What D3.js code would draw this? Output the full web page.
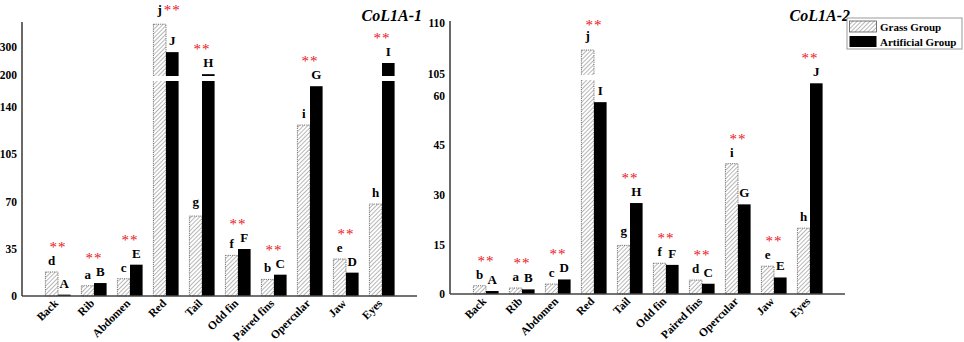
<!DOCTYPE html>
<html>
<head>
<meta charset="utf-8">
<script src="https://d3js.org/d3.v7.min.js"></script>
<style>
  body { margin: 0; background: #fff; }
  svg { display: block; }
  svg text { font-family: "Liberation Serif", "Times New Roman", serif; }
</style>
</head>
<body>
<svg id="drawing_region"></svg>
<script>
// ---- data ----
const categories = ["Back", "Rib", "Abdomen", "Red", "Tail", "Odd fin", "Paired fins", "Opercular", "Jaw", "Eyes"];

const col1_grass = [17.8, 7.6, 12.8, 382, 59.2, 30.1, 12.3, 126.6, 27.4, 68.1];
const col1_artificial = [1.0, 9.6, 23.2, 282, 203, 34.8, 15.8, 155.4, 17.3, 243];
const col1_grass_letters = ["d", "a", "c", "j", "g", "f", "b", "i", "e", "h"];
const col1_artificial_letters = ["A", "B", "E", "J", "H", "F", "C", "G", "D", "I"];
const col1_ticks = [0, 35, 70, 105, 140, 200, 300];

const col2_grass = [2.5, 1.8, 3.0, 107.35, 14.7, 9.3, 4.2, 39.4, 8.4, 19.9];
const col2_artificial = [0.9, 1.4, 4.4, 58.0, 27.5, 8.8, 3.1, 27.1, 5.0, 63.7];
const col2_grass_letters = ["b", "a", "c", "j", "g", "f", "d", "i", "e", "h"];
const col2_artificial_letters = ["A", "B", "D", "I", "H", "F", "C", "G", "E", "J"];
const col2_ticks = [0, 15, 30, 45, 60, 105, 110];

const significance = ["**", "**", "**", "**", "**", "**", "**", "**", "**", "**"];
const series_names = ["Grass Group", "Artificial Group"];

// ---- drawing ----
const FONT = '"Liberation Serif", "Times New Roman", serif';

const svg = d3.select('#drawing_region')
    .attr('width', 964)
    .attr('height', 342);

const defs = svg.append('defs');
const pat = defs.append('pattern')
    .attr('id', 'hatch')
    .attr('patternUnits', 'userSpaceOnUse')
    .attr('width', 3)
    .attr('height', 3)
    .attr('patternTransform', 'rotate(45)');
pat.append('rect').attr('width', 3).attr('height', 3).attr('fill', '#fff');
pat.append('line')
    .attr('x1', 0).attr('y1', 0).attr('x2', 0).attr('y2', 3)
    .attr('stroke', '#909090').attr('stroke-width', 1.3);

const panels = [
    { title: "CoL1A-1", axisX: 22, base: 296, top: 22, breakLo: 160, breakHi: 200, max: 390, yBreak: [80, 75],
      grass: col1_grass, art: col1_artificial, gl: col1_grass_letters, al: col1_artificial_letters, ticks: col1_ticks },
    { title: "CoL1A-2", axisX: 450, base: 294, top: 21, breakLo: 65, breakHi: 105, max: 110.2, yBreak: [79, 74],
      grass: col2_grass, art: col2_artificial, gl: col2_grass_letters, al: col2_artificial_letters, ticks: col2_ticks },
];

const descenders = "gjpqy";

panels.forEach(p => {
    const g = svg.append('g');

    const x = d3.scaleBand()
        .domain(categories)
        .range([p.axisX + 18, p.axisX + 378])
        .paddingInner(0.3)
        .paddingOuter(0.15);

    // broken y-axis: piecewise linear scale
    const y = d3.scaleLinear()
        .domain([0, p.breakLo, p.breakHi, p.max])
        .range([p.base, p.yBreak[0], p.yBreak[1], p.top]);

    const bw = x.bandwidth() / 2;

    const rows = categories.map((c, i) => ({
        cat: c, grass: p.grass[i], art: p.art[i], gl: p.gl[i], al: p.al[i], sig: significance[i]
    }));

    // grass bars
    g.selectAll('rect.grass')
        .data(rows)
        .join('rect')
        .attr('class', 'grass')
        .attr('x', d => x(d.cat))
        .attr('y', d => y(d.grass))
        .attr('width', bw)
        .attr('height', d => p.base - y(d.grass))
        .attr('fill', 'url(#hatch)')
        .attr('stroke', '#555')
        .attr('stroke-width', 0.8)
        .attr('stroke-dasharray', '1.2,1');

    // artificial bars
    g.selectAll('rect.art')
        .data(rows)
        .join('rect')
        .attr('class', 'art')
        .attr('x', d => x(d.cat) + bw)
        .attr('y', d => y(d.art))
        .attr('width', bw)
        .attr('height', d => p.base - y(d.art))
        .attr('fill', '#000');

    // white gap across bars above the break
    g.selectAll('rect.gap')
        .data(rows.filter(d => Math.max(d.grass, d.art) > p.breakLo))
        .join('rect')
        .attr('class', 'gap')
        .attr('x', d => x(d.cat) - 1)
        .attr('y', y(p.breakHi) + 1)
        .attr('width', x.bandwidth() + 2)
        .attr('height', y(p.breakLo) - y(p.breakHi))
        .attr('fill', '#fff');

    // letters
    const letterY = (v, l) => y(v) - (descenders.includes(l) ? 10 : 7);
    g.selectAll('text.gl')
        .data(rows)
        .join('text')
        .attr('class', 'gl')
        .attr('x', d => x(d.cat) + bw / 2)
        .attr('y', d => letterY(d.grass, d.gl))
        .attr('text-anchor', 'middle')
        .style('font-size', '13px')
        .style('font-weight', 'bold')
        .text(d => d.gl);

    g.selectAll('text.al')
        .data(rows)
        .join('text')
        .attr('class', 'al')
        .attr('x', d => x(d.cat) + bw * 1.5)
        .attr('y', d => letterY(d.art, d.al))
        .attr('text-anchor', 'middle')
        .style('font-size', '13px')
        .style('font-weight', 'bold')
        .text(d => d.al);

    // significance stars
    g.selectAll('text.sig')
        .data(rows)
        .join('text')
        .attr('class', 'sig')
        .each(function (d) {
            const topY = Math.min(y(d.grass), y(d.art));
            let cx = x(d.cat) + bw;
            let cy = topY - 28;
            if (cy < 8) {
                // no room above: place next to the tallest bar's letter
                const tallGrass = d.grass >= d.art;
                cx = x(d.cat) + (tallGrass ? bw / 2 + 4 : bw * 1.5 + 4);
                cy = letterY(tallGrass ? d.grass : d.art, tallGrass ? d.gl : d.al) - 7;
                d3.select(this).attr('text-anchor', 'start');
            } else {
                d3.select(this).attr('text-anchor', 'middle');
            }
            d3.select(this).attr('x', cx).attr('y', cy + 8);
        })
        .style('font-size', '15px')
        .style('fill', '#e8141c')
        .style('letter-spacing', '1px')
        .text(d => d.sig);

    // y axis
    const yAxis = d3.axisLeft(y)
        .tickValues(p.ticks)
        .tickSize(0)
        .tickPadding(5)
        .tickFormat(d3.format('d'));
    const ya = g.append('g')
        .attr('transform', `translate(${p.axisX}, 0)`)
        .call(yAxis)
        .attr('font-family', FONT);
    ya.select('.domain')
        .attr('d', `M0,${p.top}V${p.base}`)
        .attr('stroke', '#444')
        .attr('stroke-width', 1.6);
    ya.selectAll('text')
        .style('font-size', '11.5px')
        .style('font-weight', 'bold')
        .attr('fill', '#000');

    // x axis
    const xAxis = d3.axisBottom(x).tickSize(0).tickPadding(0);
    const xa = g.append('g')
        .attr('transform', `translate(0, ${p.base})`)
        .call(xAxis)
        .attr('font-family', FONT);
    xa.select('.domain')
        .attr('d', `M${p.axisX},0H${p.axisX + 395}`)
        .attr('stroke', '#444')
        .attr('stroke-width', 1.6);
    xa.selectAll('text')
        .attr('transform', 'translate(1,8) rotate(-45)')
        .attr('text-anchor', 'end')
        .attr('dy', 0)
        .attr('x', 0)
        .attr('y', 0)
        .style('font-size', '11.5px')
        .style('font-weight', 'bold')
        .attr('fill', '#000');

    // title
    g.append('text')
        .attr('x', p.axisX + 400)
        .attr('y', 21)
        .attr('text-anchor', 'end')
        .style('font-size', '16px')
        .style('font-weight', 'bold')
        .style('font-style', 'italic')
        .text(p.title);
});

// legend
const legend = svg.append('g').attr('transform', 'translate(847, 18)');
legend.append('rect')
    .attr('width', 115).attr('height', 31)
    .attr('fill', '#fff').attr('stroke', '#999').attr('stroke-width', 1);
legend.selectAll('rect.sw')
    .data(series_names)
    .join('rect')
    .attr('class', 'sw')
    .attr('x', 2.5)
    .attr('y', (d, i) => 3 + i * 15)
    .attr('width', 27)
    .attr('height', 11)
    .attr('fill', (d, i) => i === 0 ? 'url(#hatch)' : '#000')
    .attr('stroke', (d, i) => i === 0 ? '#555' : 'none')
    .attr('stroke-width', 0.8);
legend.selectAll('text')
    .data(series_names)
    .join('text')
    .attr('x', 33)
    .attr('y', (d, i) => 12.5 + i * 15)
    .style('font-size', '11px')
    .style('font-weight', 'bold')
    .text(d => d);
</script>
</body>
</html>
